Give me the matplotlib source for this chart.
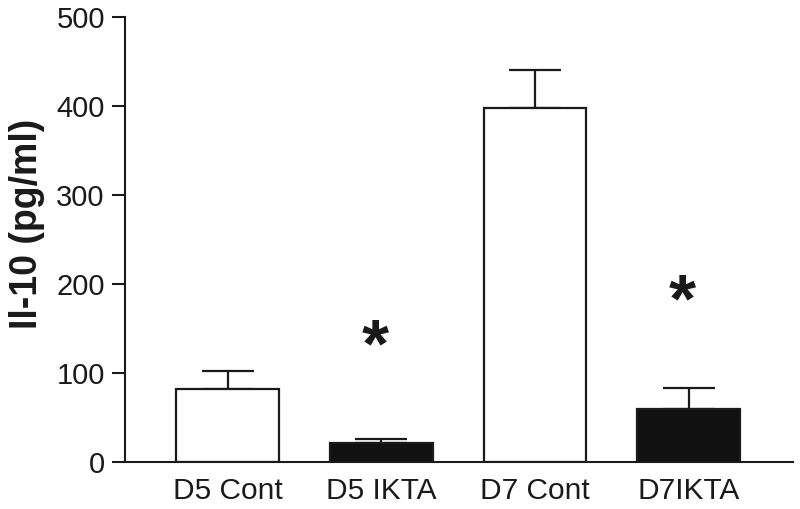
import numpy as np
import matplotlib
matplotlib.use("Agg")
import matplotlib.pyplot as plt

plt.rcParams["font.family"] = ["Liberation Sans", "DejaVu Sans"]

groups = ["D5 Cont", "D5 IKTA", "D7 Cont", "D7IKTA"]
means = [82, 21, 398, 60]
errors = [20, 5, 43, 23]
fills = ["white", "#111111", "white", "#111111"]
star_y = [None, 128, None, 178]

INK = "#1a1a1a"

fig = plt.figure(figsize=(8, 5.09), dpi=100)
ax = fig.add_axes([125 / 800, 47 / 509, 668 / 800, 444.7 / 509])

x = np.arange(len(groups))
ax.bar(x, means, width=0.67, color=fills, edgecolor=INK, linewidth=1.6, zorder=2)
ax.errorbar(x, means, yerr=[np.zeros(len(means)), errors], fmt="none",
            ecolor=INK, elinewidth=1.6, capsize=18.5, capthick=1.6, zorder=1)

for xi, sy in zip(x, star_y):
    if sy is not None:
        ax.text(xi - 0.04, sy, "*", ha="center", va="center",
                fontsize=50, fontweight="bold", color=INK)

ax.set_xlim(-0.67, 3.68)
ax.set_ylim(0, 500)
ax.set_yticks(range(0, 501, 100))
ax.set_xticks(x)
ax.set_xticklabels(groups)
ax.tick_params(axis="x", length=0, pad=11, labelsize=21.5, colors=INK)
ax.tick_params(axis="y", length=9.5, width=1.5, pad=5, labelsize=21, colors=INK)

for s in ["top", "right"]:
    ax.spines[s].set_visible(False)
for s in ["left", "bottom"]:
    ax.spines[s].set_linewidth(1.5)
    ax.spines[s].set_color(INK)

ax.set_ylabel("Il-10 (pg/ml)", fontsize=27, fontweight="bold", color=INK)
# label's right edge sits about 45 px from the figure's left edge
ax.yaxis.set_label_coords((45 - 125) / 668, (462 - 224) / 444.7)

fig.savefig("out.png", dpi=100)
